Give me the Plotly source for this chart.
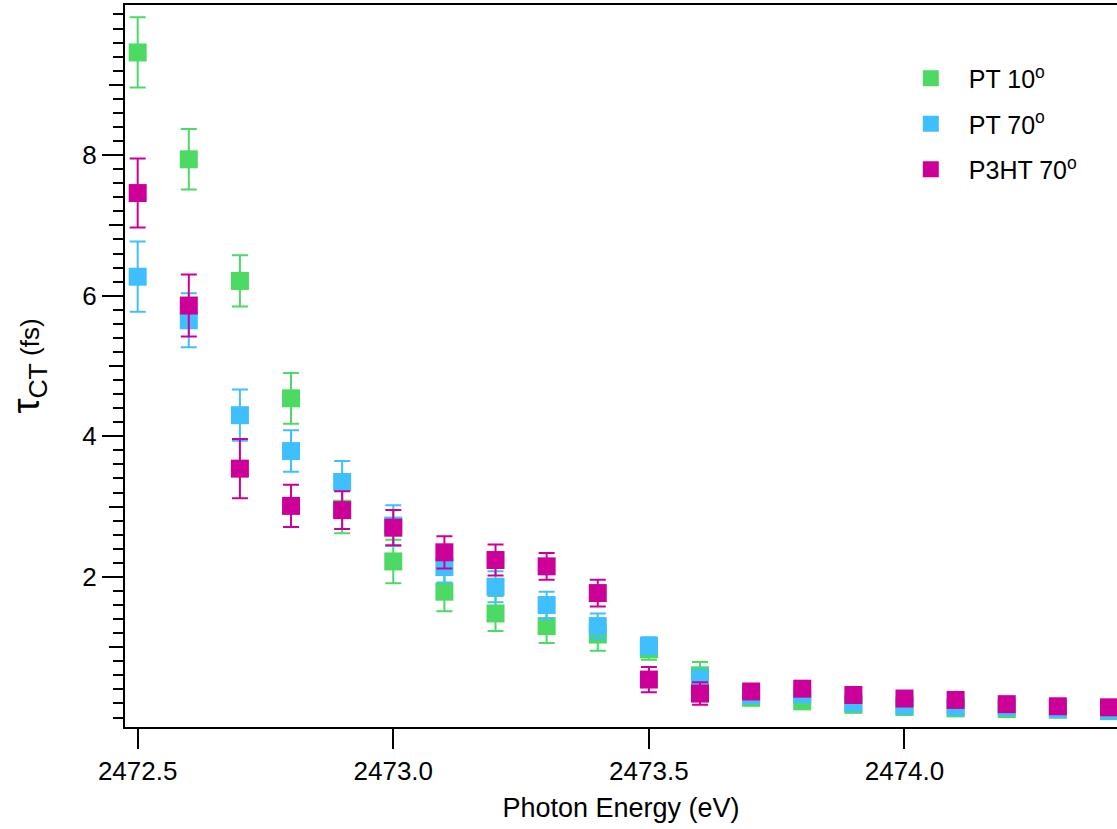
import plotly.graph_objects as go

energy = [2472.5, 2472.6, 2472.7, 2472.8, 2472.9, 2473.0, 2473.1, 2473.2, 2473.3, 2473.4,
          2473.5, 2473.6, 2473.7, 2473.8, 2473.9, 2474.0, 2474.1, 2474.2, 2474.3, 2474.4]

pt10 = [9.46, 7.94, 6.21, 4.54, 2.97, 2.22, 1.79, 1.48, 1.30, 1.18,
        0.97, 0.60, 0.28, 0.23, 0.18, 0.15, 0.13, 0.12, 0.11, 0.09]
pt10_err = [0.50, 0.43, 0.365, 0.36, 0.35, 0.31, 0.28, 0.25, 0.24, 0.23,
            0.15, 0.19, 0.06, 0.06, 0.05, 0.05, 0.05, 0.04, 0.04, 0.04]

pt70 = [6.27, 5.65, 4.30, 3.79, 3.35, 2.73, 2.14, 1.86, 1.60, 1.30,
        1.02, 0.53, 0.32, 0.33, 0.21, 0.17, 0.15, 0.15, 0.12, 0.10]
pt70_err = [0.50, 0.385, 0.365, 0.295, 0.30, 0.29, 0.22, 0.22, 0.19, 0.18,
            0.12, 0.15, 0.06, 0.06, 0.05, 0.05, 0.05, 0.04, 0.04, 0.04]

p3ht = [7.46, 5.86, 3.54, 3.01, 2.95, 2.70, 2.35, 2.24, 2.15, 1.77,
        0.54, 0.34, 0.37, 0.41, 0.32, 0.27, 0.25, 0.19, 0.16, 0.145]
p3ht_err = [0.49, 0.44, 0.42, 0.30, 0.27, 0.25, 0.23, 0.22, 0.19, 0.19,
            0.18, 0.16, 0.07, 0.07, 0.06, 0.06, 0.05, 0.05, 0.05, 0.05]

series = [
    ("PT 10<sup>o</sup>", pt10, pt10_err, "#4CD964"),
    ("PT 70<sup>o</sup>", pt70, pt70_err, "#40BFFF"),
    ("P3HT 70<sup>o</sup>", p3ht, p3ht_err, "#CC0099"),
]

FONT = "Arial, Liberation Sans, sans-serif"

fig = go.Figure()
for i, (name, vals, errs, col) in enumerate(series):
    fig.add_trace(go.Scatter(
        x=energy, y=vals, mode="markers", name=name, legendgroup=f"g{i}",
        marker=dict(symbol="square", size=18, color=col, line=dict(width=0)),
        error_y=dict(type="data", array=errs, visible=True, color=col,
                     thickness=2, width=8),
    ))

# helper trace for the intermediate (odd-integer) tick layer
fig.add_trace(go.Scatter(x=[], y=[], yaxis="y2", showlegend=False, hoverinfo="skip"))

yrange = [-0.135, 10.135]

fig.update_layout(
    width=1117, height=829,
    margin=dict(l=125, r=0, t=5, b=102),
    paper_bgcolor="white", plot_bgcolor="white",
    font=dict(family=FONT, size=26, color="black"),
    showlegend=True,
    legend=dict(x=0.774, y=0.93, xanchor="left", yanchor="top",
                font=dict(size=25), itemwidth=66, tracegroupgap=10,
                bgcolor="rgba(0,0,0,0)"),
    xaxis=dict(
        range=[2472.4752, 2474.4157],
        showline=True, linecolor="black", linewidth=2, mirror=True,
        ticks="outside", ticklen=20, tickwidth=2, tickcolor="black",
        tick0=2472.5, dtick=0.5, tickformat=".1f",
        showgrid=False, zeroline=False,
        tickfont=dict(size=26),
        title=dict(text="Photon Energy (eV)", font=dict(size=27), standoff=13),
    ),
    yaxis=dict(
        range=yrange,
        showline=True, linecolor="black", linewidth=2, mirror=False,
        ticks="outside", ticklen=21, tickwidth=2, tickcolor="black",
        tickvals=[2, 4, 6, 8],
        minor=dict(ticks="outside", ticklen=10, tickwidth=2, tickcolor="black",
                   tick0=0, dtick=0.2, showgrid=False),
        showgrid=False, zeroline=False,
        tickfont=dict(size=26),
        title=dict(text='τ<sub>CT</sub><span style="font-size:26px"> (fs)</span>',
                   font=dict(size=38), standoff=31),
    ),
    yaxis2=dict(
        range=yrange, overlaying="y", side="left",
        showline=False, ticks="outside", ticklen=15, tickwidth=2, tickcolor="black",
        tickvals=[1, 3, 5, 7, 9], showticklabels=False,
        showgrid=False, zeroline=False,
    ),
)

fig.write_html("out.html")
